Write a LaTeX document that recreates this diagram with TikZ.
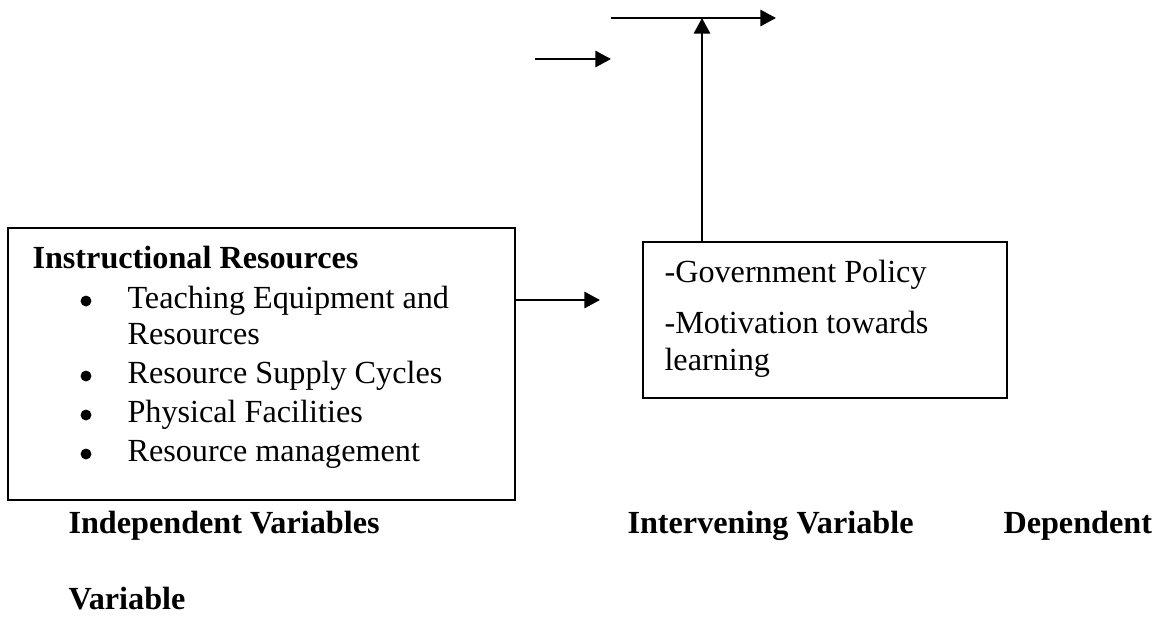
\documentclass[tikz,border=0pt]{standalone}
\usepackage{fontspec}
\setmainfont{Liberation Serif}
\usetikzlibrary{arrows.meta}

\begin{document}
\begin{tikzpicture}[x=0.385pt, y=-0.385pt, >={Triangle[length=6pt,width=6.2pt]},
		font=\fontsize{12.4}{14}\selectfont,
		box/.style={draw, line width=0.6pt, inner sep=0pt},
		txt/.style={anchor=base west, inner sep=0pt},
		head/.style={txt, font=\fontsize{12.4}{14}\selectfont\bfseries},
		dot/.style={circle, fill, inner sep=0pt, minimum size=4.2pt},
		arr/.style={->, line width=0.95pt}]
		\useasboundingbox (0,0) rectangle (1161,618);

		% the two boxes
		\node[box, minimum width=195.2pt, minimum height=104.7pt] (ir) at (261.5,364) {};
		\node[box, minimum width=140.1pt, minimum height=60.1pt] (iv) at (825,320) {};

		% independent variables
		\node[head] (irhead) at (32,268) {Instructional Resources};
		\node[dot] (b1) at (86,301) {};
		\node[txt] (i1) at (127,308) {Teaching Equipment and};
		\node[txt] (i1b) at (127,344) {Resources};
		\node[dot] (b2) at (86,376) {};
		\node[txt] (i2) at (127,383) {Resource Supply Cycles};
		\node[dot] (b3) at (86,415) {};
		\node[txt] (i3) at (127,422) {Physical Facilities};
		\node[dot] (b4) at (86,454) {};
		\node[txt] (i4) at (127,461) {Resource management};

		% intervening variables
		\node[txt] (v1) at (664,282) {-Government Policy};
		\node[txt] (v2) at (664,333) {-Motivation towards};
		\node[txt] (v2b) at (664,370) {learning};

		% captions
		\node[head] (capind) at (68,533) {Independent Variables};
		\node[head] (capint) at (627,533) {Intervening Variable};
		\node[head] (capdep) at (1003,533) {Dependent};
		\node[head] (capvar) at (68,609) {Variable};

		% arrows
		\coordinate (irout) at (600,300);
		\coordinate (ivin) at (535,59);
		\coordinate (ivout) at (611,59);
		\coordinate (dvin) at (611,18);
		\coordinate (dvout) at (776,18);
		\coordinate (up) at (702,18);

		\draw[arr] (ir.east |- irout) -- (irout);
		\draw[arr] (ivin) -- (ivout);
		\draw[arr] (dvin) -- (dvout);
		\draw[arr] (iv.north -| up) -- (up);
	\end{tikzpicture}
\end{document}
